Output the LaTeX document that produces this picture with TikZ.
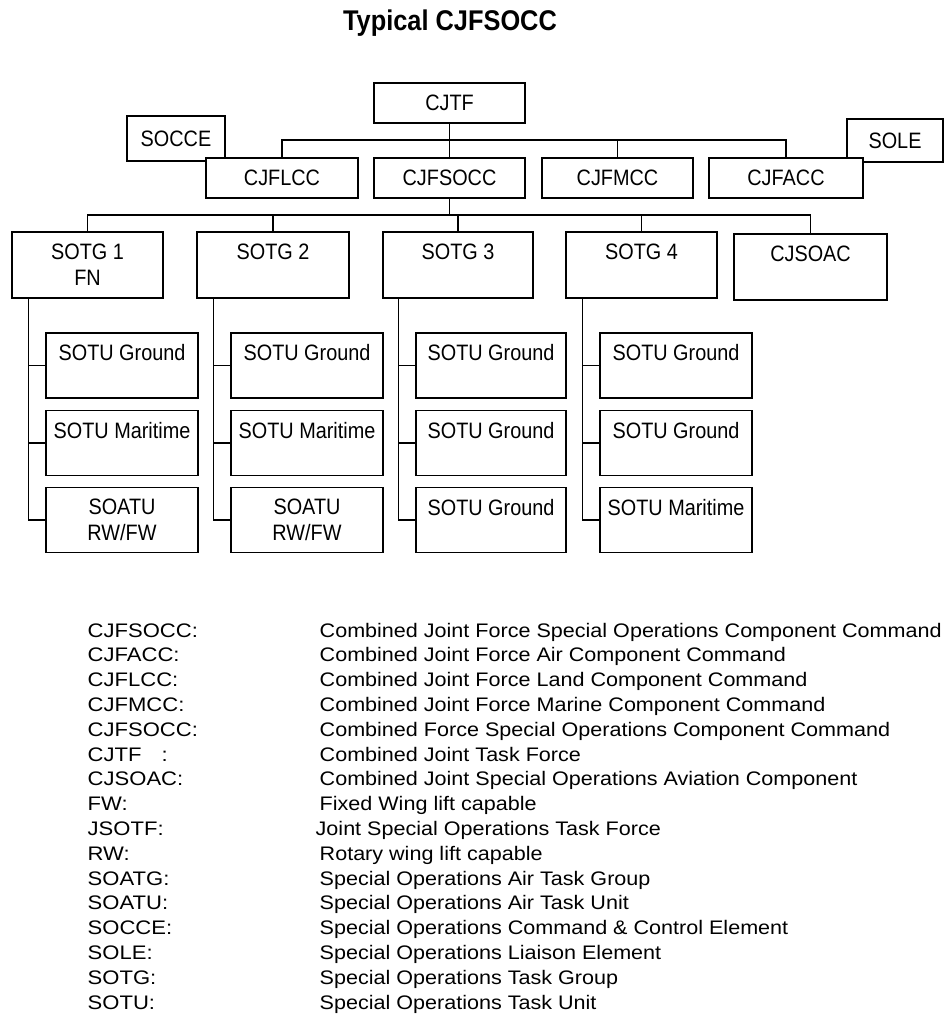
\documentclass[tikz,border=0pt]{standalone}
\usepackage{fontspec}
\setmainfont{Liberation Sans}[FakeStretch=0.89]
\newfontfamily\keyfamily{Liberation Sans}[FakeStretch=1.125]
\newfontfamily\descfamily{Liberation Sans}[FakeStretch=1.1]
\usetikzlibrary{positioning,calc}
\newcommand\orgfont{\fontsize{22.3}{26}\selectfont}
\newcommand\keyfont{\keyfamily\fontsize{19.6}{24.8}\selectfont}
\newcommand\descfont{\descfamily\fontsize{19.6}{24.8}\selectfont}

\begin{document}
\begin{tikzpicture}[x=1pt,y=-1pt,line width=1.4pt,
  unit/.style={draw,fill=white,inner sep=0pt,minimum width=152pt,minimum height=40pt,font=\orgfont,align=center},
  tall/.style={unit,minimum height=66pt},
  sotu/.style={unit,minimum height=65pt},
  key/.style={anchor=base west,inner sep=0pt,font=\keyfont}]
\useasboundingbox (0,0) rectangle (952,1014);
\node[font=\fontsize{28.5}{30}\selectfont\bfseries] (title) at (450,23) {Typical CJFSOCC};

\node[unit,minimum width=98pt,minimum height=45pt] (socce) at (176,138.5) {SOCCE};
\node[unit,minimum width=96pt,minimum height=43pt] (sole) at (895,140.5) {SOLE};
\node[unit,minimum width=151pt] (cjtf) at (449.5,103) {CJTF};
\node[unit] (cjflcc) at (282,178) {CJFLCC};
\node[unit,minimum width=151pt] (cjfsocc) at (449.5,178) {CJFSOCC};
\node[unit,minimum width=151pt] (cjfmcc) at (617.5,178) {CJFMCC};
\node[unit,minimum width=154pt] (cjfacc) at (786,178) {CJFACC};

\node[tall,minimum width=151pt] (sotg1) at (87.5,265) {SOTG 1\\FN};
\node[tall] (sotg2) at (273,265) {SOTG 2\\\mbox{}};
\node[tall,minimum width=150pt] (sotg3) at (458,265) {SOTG 3\\\mbox{}};
\node[tall,minimum width=151pt] (sotg4) at (641.5,265) {SOTG 4\\\mbox{}};
\node[tall,minimum width=153pt] (cjsoac) at (810.5,267) {CJSOAC\\\mbox{}};

\node[sotu] (u11) at (122,365.5) {SOTU Ground\\\mbox{}};
\node[sotu] (u12) at (122,443) {SOTU Maritime\\\mbox{}};
\node[sotu] (u13) at (122,520) {SOATU\\RW/FW};
\node[sotu] (u21) at (307,365.5) {SOTU Ground\\\mbox{}};
\node[sotu] (u22) at (307,443) {SOTU Maritime\\\mbox{}};
\node[sotu] (u23) at (307,520) {SOATU\\RW/FW};
\node[sotu,minimum width=150pt] (u31) at (491,365.5) {SOTU Ground\\\mbox{}};
\node[sotu,minimum width=150pt] (u32) at (491,443) {SOTU Ground\\\mbox{}};
\node[sotu,minimum width=150pt] (u33) at (491,520) {SOTU Ground\\\mbox{}};
\node[sotu] (u41) at (676,365.5) {SOTU Ground\\\mbox{}};
\node[sotu] (u42) at (676,443) {SOTU Ground\\\mbox{}};
\node[sotu] (u43) at (676,520) {SOTU Maritime\\\mbox{}};

\coordinate (bar1) at (0,140);
\coordinate (bar2) at (0,215);
\draw (cjtf) -- (cjfsocc);
\draw (cjflcc.north) -- (cjflcc.north |- bar1) -- (cjfacc.north |- bar1) -- (cjfacc.north);
\draw (cjfmcc.north) -- (cjfmcc.north |- bar1);
\draw (cjfsocc.south) -- (cjfsocc.south |- bar2);
\draw (sotg1.north) -- (sotg1.north |- bar2) -- (cjsoac.north |- bar2) -- (cjsoac.north);
\foreach \n in {sotg2,sotg3,sotg4}
  \draw (\n.north) -- (\n.north |- bar2);
\foreach \c in {1,2,3,4} {
  \coordinate (v\c) at ([xshift=-17pt]u\c1.west);
  \draw (v\c |- sotg\c.south) |- (u\c3.west);
  \draw (v\c) -- (u\c1.west);
  \draw (v\c |- u\c2.west) -- (u\c2.west);
}

\foreach \k/\t [count=\i from 0] in {
  CJFSOCC:/Combined Joint Force Special Operations Component Command,
  CJFACC:/Combined Joint Force Air Component Command,
  CJFLCC:/Combined Joint Force Land Component Command,
  CJFMCC:/Combined Joint Force Marine Component Command,
  CJFSOCC:/Combined Force Special Operations Component Command,
  CJTF\hspace{20pt}:/Combined Joint Task Force,
  CJSOAC:/Combined Joint Special Operations Aviation Component,
  FW:/Fixed Wing lift capable,
  JSOTF:/\hspace{-4pt}Joint Special Operations Task Force,
  RW:/Rotary wing lift capable,
  SOATG:/Special Operations Air Task Group,
  SOATU:/Special Operations Air Task Unit,
  SOCCE:/Special Operations Command \& Control Element,
  SOLE:/Special Operations Liaison Element,
  SOTG:/Special Operations Task Group,
  SOTU:/Special Operations Task Unit} {
  \node[key] (k\i) at (87,637+24.8*\i) {\k};
  \node[key,font=\descfont] (d\i) at (319,637+24.8*\i) {\t};
}
\end{tikzpicture}
\end{document}
